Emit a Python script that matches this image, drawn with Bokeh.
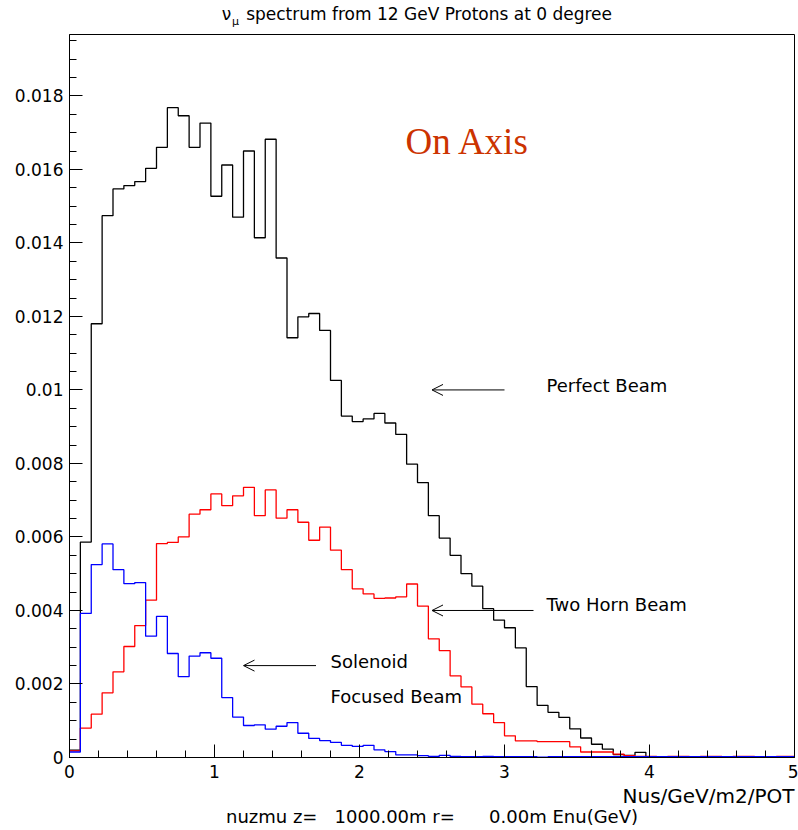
import numpy as np
from bokeh.plotting import figure
from bokeh.models import Range1d, FixedTicker, CustomJSTickFormatter, Label, Arrow, OpenHead, LinearAxis
from bokeh.embed import file_html
from bokeh.resources import INLINE

# ---------------- data ----------------
bin_width = 0.075  # GeV

perfect_beam = [
    0.0002, 0.00586, 0.0118, 0.01474, 0.01547, 0.01556, 0.01567, 0.01603, 0.0166, 0.01768,
    0.01746, 0.0166, 0.01726, 0.01527, 0.01612, 0.0147, 0.0165, 0.01414, 0.01682, 0.01359,
    0.01142, 0.01199, 0.01208, 0.01162, 0.01026, 0.00929, 0.00914, 0.00921, 0.00936, 0.0091,
    0.00879, 0.00798, 0.00748, 0.00658, 0.00597, 0.0055, 0.005, 0.00466, 0.00405, 0.00374,
    0.00353, 0.00298, 0.00193, 0.00142, 0.00123, 0.00109, 0.00078, 0.00053, 0.00036, 0.00023,
    0.00008, 0.00006, 0.00014, 0.0, 0.0, 0.0, 0.0, 0.0, 0.0, 0.0,
    0.0, 0.0, 0.0, 0.0, 0.0, 0.0, 0.0,
]

two_horn_beam = [
    0.00018, 0.0008, 0.00118, 0.00176, 0.00233, 0.00302, 0.00359, 0.00428, 0.00582, 0.00585,
    0.006, 0.00662, 0.00674, 0.00717, 0.00685, 0.00712, 0.00735, 0.00658, 0.00728, 0.00651,
    0.00674, 0.0064, 0.00591, 0.00627, 0.00564, 0.00511, 0.00459, 0.00445, 0.00433, 0.00434,
    0.00437, 0.00472, 0.00412, 0.00323, 0.00291, 0.00222, 0.00192, 0.00145, 0.00119, 0.00095,
    0.00059, 0.00045, 0.00045, 0.00043, 0.00043, 0.00043, 0.00029, 0.00015, 0.00015, 0.00015,
    0.00009, 0.00005, 0.00003, 0.00003, 0.00002, 0.00003, 0.00003, 0.00002, 0.00003, 0.00003,
    0.00002, 0.00003, 0.00003, 0.00002, 0.00002, 0.00003, 0.00003,
]

solenoid_beam = [
    0.00015, 0.00392, 0.00525, 0.00581, 0.00511, 0.00473, 0.00476, 0.0033, 0.00384, 0.00283,
    0.0022, 0.00276, 0.00285, 0.0027, 0.00163, 0.0011, 0.00087, 0.00089, 0.00077, 0.00085,
    0.00095, 0.00066, 0.00052, 0.00046, 0.00041, 0.00033, 0.0003, 0.00033, 0.00021, 0.00016,
    0.00007, 0.00007, 0.00005, 0.00003, 0.00006, 0.00003, 0.00002, 0.00002, 0.00003, 0.00002,
    0.00002, 0.00002, 0.00002, 0.00001, 0.00002, 0.00002, 0.00002, 0.00002, 0.00002, 0.00002,
    0.00002, 0.00002, 0.00002, 0.00002, 0.00002, 0.00002, 0.00002, 0.00002, 0.00002, 0.00002,
    0.00002, 0.00002, 0.00002, 0.00002, 0.00002, 0.00002, 0.00002,
]

x_ticks = [0, 1, 2, 3, 4, 5]
y_ticks = [0, 0.002, 0.004, 0.006, 0.008, 0.01, 0.012, 0.014, 0.016, 0.018]

title_nu = "\u03bd"
title_mu = "\u03bc"
title_rest = "spectrum from 12 GeV Protons at 0 degree"
x_units_label = "Nus/GeV/m2/POT"
info_label = "nuzmu z=\u00a0\u00a0\u00a01000.00m r=\u00a0\u00a0\u00a0\u00a0\u00a0\u00a00.00m Enu(GeV)"

FONT = "DejaVu Sans"

# ---------------- figure ----------------
p = figure(width=798, height=830,
           x_range=Range1d(0, 5), y_range=Range1d(0, 0.01967),
           output_backend="svg", toolbar_location=None,
           min_border_left=69, min_border_right=4,
           min_border_top=32, min_border_bottom=73)
p.background_fill_color = "white"
p.border_fill_color = "white"
p.outline_line_color = "black"
p.outline_line_width = 1
p.outline_line_alpha = 1
p.xgrid.visible = False
p.ygrid.visible = False

for ax in (p.xaxis[0], p.yaxis[0]):
    ax.axis_line_color = "black"
    ax.major_tick_line_color = "black"
    ax.minor_tick_line_color = "black"
    ax.major_tick_out = 0
    ax.minor_tick_out = 0
    ax.major_tick_in = 13
    ax.minor_tick_in = 7
    ax.major_label_text_font = FONT
    ax.major_label_text_font_size = "17px"
    ax.major_label_text_color = "black"

p.xaxis.ticker = FixedTicker(ticks=x_ticks, minor_ticks=list(np.round(np.arange(0, 5.001, 0.2), 3)))
p.yaxis.ticker = FixedTicker(ticks=y_ticks, minor_ticks=list(np.round(np.arange(0, 0.0196, 0.0005), 5)))
p.yaxis.formatter = CustomJSTickFormatter(
    code="return tick === 0 ? '0' : (Math.round(tick*1000)/1000).toString();")
p.xaxis.major_label_standoff = 7
p.yaxis.major_label_standoff = 6


def text_axis(ticks, labels, size, standoff):
    ax = LinearAxis(ticker=FixedTicker(ticks=ticks, minor_ticks=[]),
                    major_label_overrides=dict(zip(ticks, labels)))
    ax.axis_line_color = None
    ax.major_tick_line_color = None
    ax.minor_tick_line_color = None
    ax.major_tick_in = 0
    ax.major_tick_out = 0
    ax.minor_tick_in = 0
    ax.minor_tick_out = 0
    ax.major_label_text_font = FONT
    ax.major_label_text_font_size = size
    ax.major_label_text_color = "black"
    ax.major_label_standoff = standoff
    return ax


# title: nu with subscript mu (two text rows above the frame)
p.add_layout(text_axis([1.145], [title_mu], "11px", 7), "above")
p.add_layout(text_axis([1.083, 2.48], [title_nu, title_rest], "17px", -12), "above")

# bottom texts
bottom = text_axis([4.407], [x_units_label], "20px", 3)
bottom.axis_label = info_label
bottom.axis_label_text_font = FONT
bottom.axis_label_text_font_size = "18px"
bottom.axis_label_text_font_style = "normal"
bottom.axis_label_text_color = "black"
bottom.axis_label_standoff = -5
p.add_layout(bottom, "below")


def step_xy(vals):
    n = len(vals)
    edges = [i * bin_width for i in range(n + 1)]
    ys = list(vals) + [vals[-1]]
    return edges, ys


for vals, col in ((perfect_beam, "black"), (two_horn_beam, "#ff0000"), (solenoid_beam, "#0000ff")):
    xs, ys = step_xy(vals)
    p.step(x=xs, y=ys, mode="after", line_color=col, line_width=1.3)

# ---------------- annotations ----------------
p.add_layout(Label(x=2.317, y=0.01676, text="On Axis", text_font="Liberation Serif",
                   text_font_size="37px", text_color="#cc3300", text_baseline="middle"))

ann_style = dict(text_font=FONT, text_font_size="18px", text_color="black", text_baseline="middle")
p.add_layout(Label(x=3.29, y=0.01013, text="Perfect Beam", **ann_style))
p.add_layout(Label(x=3.29, y=0.00416, text="Two Horn Beam", **ann_style))
p.add_layout(Label(x=1.8, y=0.00262, text="Solenoid", **ann_style))
p.add_layout(Label(x=1.8, y=0.00165, text="Focused Beam", **ann_style))

for xs_, xe_, yy in ((3.0, 2.5, 0.0100), (3.2, 2.5, 0.0040), (1.7, 1.2, 0.0025)):
    p.add_layout(Arrow(end=OpenHead(size=11, line_width=1, line_color="black"),
                       x_start=xs_, y_start=yy, x_end=xe_, y_end=yy,
                       line_width=1, line_color="black"))

open("out.html", "w").write(file_html(p, INLINE))
